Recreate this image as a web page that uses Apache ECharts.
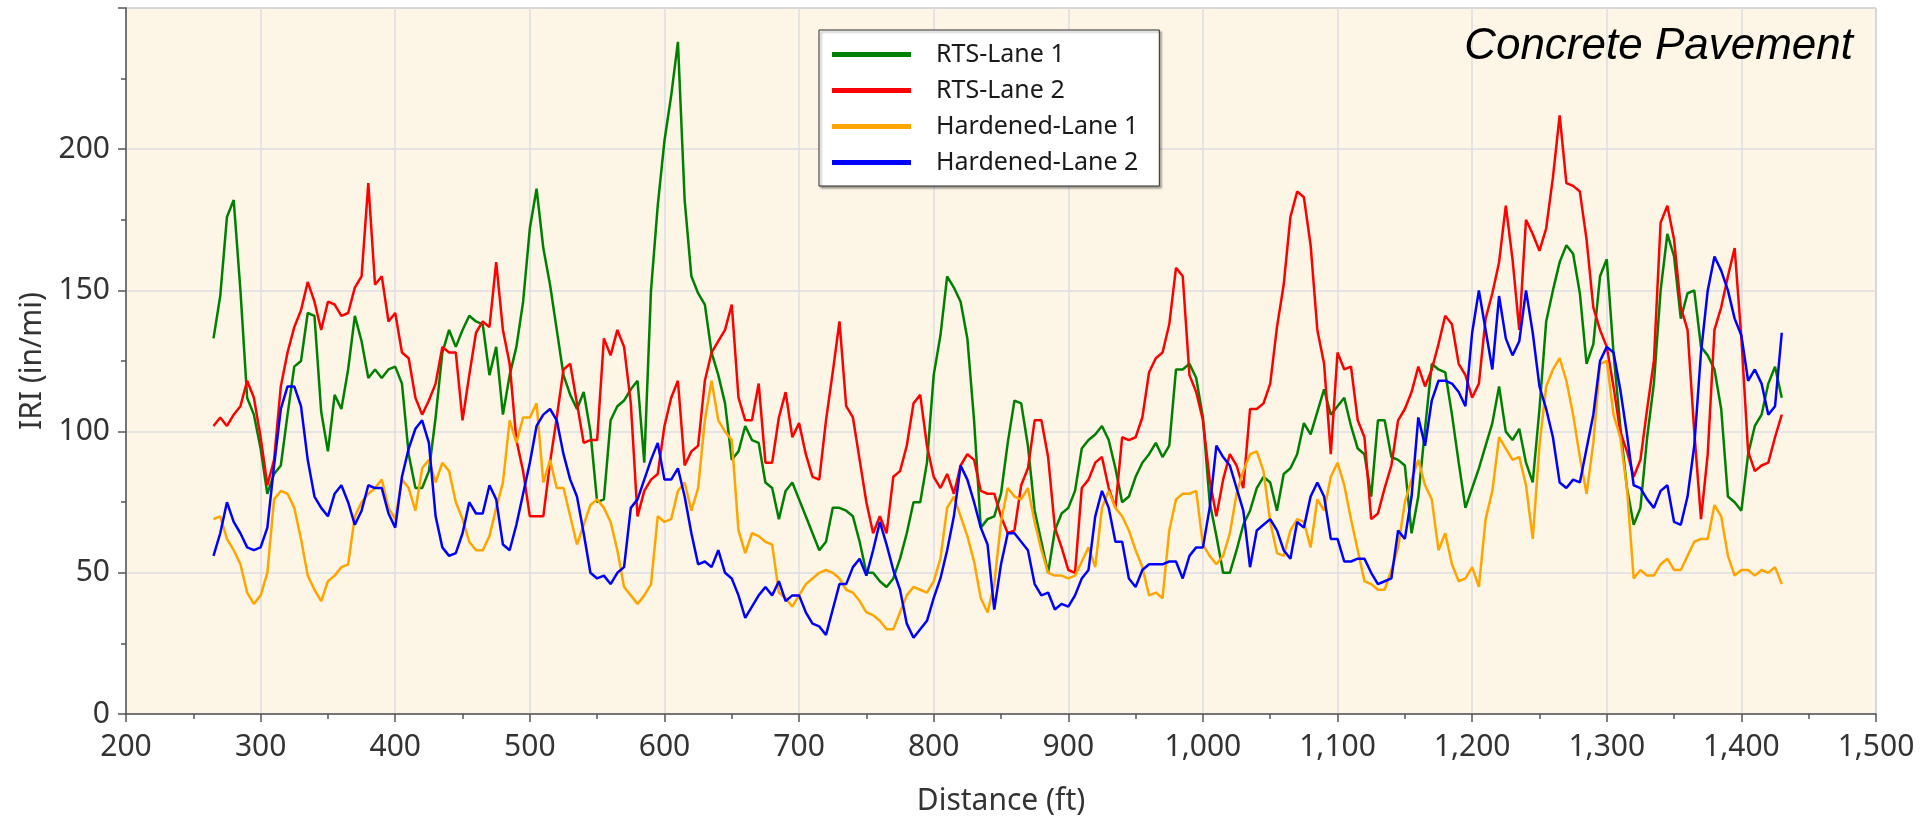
<!DOCTYPE html>
<html>
<head>
<meta charset="utf-8">
<title>IRI profile - Concrete Pavement</title>
<script src="https://cdn.jsdelivr.net/npm/echarts@6/dist/echarts.min.js"></script>
<style>
  html, body { margin: 0; padding: 0; background: #ffffff; }
  #chart { width: 1923px; height: 821px; }
</style>
</head>
<body>
<div id="chart"></div>
<script>
// Profile stations: first station (ft) and spacing (ft) of the IRI samples
const STATION_START = 265;
const STATION_STEP = 5;

// IRI (in/mi) per station, one row = 50 ft
const rtsLane1 = [
  133,148,176,182,150,112,106,94,78,85,
  88,106,123,125,142,141,107,93,113,108,
  122,141,132,119,122,119,122,123,117,92,
  80,80,86,105,128,136,130,136,141,139,
  138,120,130,106,120,130,146,172,186,165,
  152,136,120,113,108,114,100,75,76,104,
  109,111,115,118,89,150,180,203,219,238,
  182,155,149,145,128,120,110,90,93,102,
  97,96,82,80,69,79,82,76,70,64,
  58,61,73,73,72,70,61,50,50,47,
  45,48,55,64,75,75,89,120,134,155,
  151,146,133,104,66,69,70,78,96,111,
  110,95,72,61,50,65,71,73,79,94,
  97,99,102,97,87,75,77,84,89,92,
  96,91,95,122,122,124,119,105,75,63,
  50,50,58,67,72,80,84,82,72,85,
  87,92,103,99,107,115,106,109,112,102,
  94,92,77,104,104,91,90,88,64,77,
  101,124,122,121,106,89,73,80,87,95,
  103,116,100,97,101,89,82,108,139,150,
  160,166,163,149,124,131,155,161,128,102,
  80,67,73,98,117,150,170,162,140,149,
  150,130,127,122,108,77,75,72,92,102,
  106,117,123,112
];

const rtsLane2 = [
  102,105,102,106,109,118,112,98,81,90,
  116,128,137,143,153,146,136,146,145,141,
  142,151,155,188,152,155,139,142,128,126,
  112,106,111,117,130,128,128,104,120,135,
  139,137,160,136,124,97,86,70,70,70,
  89,105,122,124,110,96,97,97,133,127,
  136,130,110,70,79,83,85,102,112,118,
  88,93,95,118,128,132,136,145,112,104,
  104,117,89,89,105,114,98,103,92,84,
  83,104,121,139,109,105,90,75,64,70,
  64,84,86,95,110,113,95,84,80,85,
  78,88,92,90,79,78,78,70,64,65,
  81,87,104,104,91,66,59,51,50,80,
  83,89,91,80,73,98,97,98,105,121,
  126,128,138,158,155,120,114,104,83,70,
  83,92,88,80,108,108,110,117,137,152,
  176,185,183,166,136,124,92,128,122,123,
  104,98,69,71,80,88,104,108,114,123,
  116,122,131,141,138,124,120,112,117,140,
  149,160,180,161,136,175,170,164,172,190,
  212,188,187,185,168,144,136,130,116,100,
  93,84,90,108,125,174,180,168,144,136,
  100,69,92,136,144,155,165,133,93,86,
  88,89,98,106
];

const hardenedLane1 = [
  69,70,62,58,53,43,39,42,50,76,
  79,78,73,62,49,44,40,47,49,52,
  53,70,75,78,80,83,73,69,83,80,
  72,87,90,82,89,86,75,69,61,58,
  58,63,73,82,104,96,105,105,110,82,
  90,80,80,70,60,67,74,76,73,68,
  58,45,42,39,42,46,70,68,69,79,
  82,72,80,104,118,104,100,97,65,57,
  64,63,61,60,43,41,38,42,46,48,
  50,51,50,48,44,43,40,36,35,33,
  30,30,36,42,45,44,43,47,55,73,
  77,70,63,54,41,36,46,68,80,77,
  76,80,68,58,50,49,49,48,49,54,
  59,52,73,79,73,70,65,58,52,42,
  43,41,65,76,78,78,79,60,56,53,
  56,64,78,86,92,93,86,68,57,56,
  65,69,68,59,76,72,84,89,81,69,
  58,47,46,44,44,51,59,75,83,90,
  81,76,58,64,53,47,48,52,45,69,
  79,98,94,90,91,81,62,95,116,122,
  126,118,106,91,78,96,124,125,106,98,
  80,48,51,49,49,53,55,51,51,56,
  61,62,62,74,70,56,49,51,51,49,
  51,50,52,46
];

const hardenedLane2 = [
  56,64,75,68,64,59,58,59,66,88,
  108,116,116,109,90,77,73,70,78,81,
  75,67,72,81,80,80,71,66,84,94,
  101,104,96,70,59,56,57,64,75,71,
  71,81,76,60,58,67,78,89,102,106,
  108,104,92,83,77,64,50,48,49,46,
  50,52,73,76,83,90,96,83,83,87,
  77,64,53,54,52,58,50,48,42,34,
  38,42,45,42,47,40,42,42,36,32,
  31,28,37,46,46,52,55,49,58,68,
  60,51,44,32,27,30,33,41,48,58,
  70,88,83,75,66,60,37,53,64,64,
  61,58,46,42,43,37,39,38,42,48,
  51,70,79,73,61,61,48,45,51,53,
  53,53,54,54,48,56,59,59,73,95,
  91,88,80,72,52,65,67,69,65,58,
  55,68,66,77,82,77,62,62,54,54,
  55,55,50,46,47,48,65,62,77,105,
  95,111,118,118,117,114,109,135,150,136,
  122,148,133,127,132,150,135,116,108,98,
  82,80,83,82,94,106,125,130,128,115,
  99,81,80,76,73,79,81,68,67,77,
  95,128,150,162,157,150,140,134,118,122,
  117,106,109,135
];

const seriesNames = ['RTS-Lane 1', 'RTS-Lane 2', 'Hardened-Lane 1', 'Hardened-Lane 2'];
const seriesColors = ['#008000', '#ff0000', '#ffa500', '#0000ff'];
const seriesValues = [rtsLane1, rtsLane2, hardenedLane1, hardenedLane2];

// Axis ranges and ticks
const X_MIN = 200, X_MAX = 1500, X_STEP = 100;
const Y_MIN = 0, Y_MAX = 250, Y_STEP = 50;

const FONT = "'Noto Sans', 'Open Sans', 'DejaVu Sans', sans-serif";

function withStations(values) {
  return values.map((v, i) => [STATION_START + i * STATION_STEP, v]);
}

function thousands(v) {
  return String(v).replace(/\B(?=(\d{3})+(?!\d))/g, ',');
}

const chart = echarts.init(document.getElementById('chart'), null, { renderer: 'canvas' });

chart.setOption({
  animation: false,
  backgroundColor: '#ffffff',
  title: {
    text: 'Concrete Pavement',
    right: 70,
    top: 25,
    padding: 0,
    textStyle: {
      fontFamily: "'Liberation Sans', Arial, sans-serif",
      fontStyle: 'italic',
      fontWeight: 'normal',
      fontSize: 44,
      color: '#000000'
    }
  },
  legend: {
    orient: 'vertical',
    left: 819,
    top: 30,
    padding: [12, 21, 11, 13],
    itemGap: 11,
    itemWidth: 79,
    itemHeight: 5,
    icon: 'rect',
    backgroundColor: '#ffffff',
    borderColor: '#2a2a2a',
    borderWidth: 1,
    shadowColor: 'rgba(0,0,0,0.35)',
    shadowBlur: 2,
    shadowOffsetX: 2,
    shadowOffsetY: 2,
    data: seriesNames,
    textStyle: {
      fontFamily: FONT,
      fontSize: 25,
      lineHeight: 25,
      color: '#1a1a1a',
      padding: [0, 0, 0, 20]
    }
  },
  grid: {
    left: 126,
    right: 47,
    top: 8,
    bottom: 101,
    show: true,
    backgroundColor: '#fdf5e6',
    borderColor: '#8a8a8a',
    borderWidth: 1
  },
  xAxis: {
    type: 'value',
    min: X_MIN,
    max: X_MAX,
    interval: X_STEP,
    name: 'Distance (ft)',
    nameLocation: 'middle',
    nameGap: 72,
    nameTextStyle: { fontFamily: FONT, fontSize: 30, color: '#333333' },
    axisLine: { show: true, onZero: false, lineStyle: { color: '#555555', width: 1.5 } },
    axisTick: { show: true, inside: false, length: 8, lineStyle: { color: '#555555', width: 1.5 } },
    minorTick: { show: true, splitNumber: 2, length: 5, lineStyle: { color: '#555555', width: 1.5 } },
    axisLabel: {
      margin: 18,
      fontFamily: FONT,
      fontSize: 30,
      color: '#333333',
      showMinLabel: true,
      showMaxLabel: true,
      formatter: thousands
    },
    splitLine: { show: true, lineStyle: { color: '#dddde3', width: 1.5 } },
    minorSplitLine: { show: false }
  },
  yAxis: {
    type: 'value',
    min: Y_MIN,
    max: Y_MAX,
    interval: Y_STEP,
    name: 'IRI (in/mi)',
    nameLocation: 'middle',
    nameGap: 74,
    nameRotate: 90,
    nameTextStyle: { fontFamily: FONT, fontSize: 30, color: '#333333' },
    axisLine: { show: true, onZero: false, lineStyle: { color: '#555555', width: 1.5 } },
    axisTick: { show: true, inside: false, length: 8, lineStyle: { color: '#555555', width: 1.5 } },
    minorTick: { show: true, splitNumber: 2, length: 5, lineStyle: { color: '#555555', width: 1.5 } },
    axisLabel: {
      margin: 16,
      fontFamily: FONT,
      fontSize: 30,
      color: '#333333',
      showMaxLabel: false,
      formatter: function (v) { return v >= Y_MAX ? '' : String(v); }
    },
    splitLine: { show: true, lineStyle: { color: '#dddde3', width: 1.5 } }
  },
  series: seriesNames.map((name, k) => ({
    name: name,
    type: 'line',
    data: withStations(seriesValues[k]),
    showSymbol: false,
    symbol: 'none',
    smooth: false,
    color: seriesColors[k],
    lineStyle: { color: seriesColors[k], width: 2.5 },
    emphasis: { disabled: true },
    z: 2 + k
  }))
});
</script>
</body>
</html>
